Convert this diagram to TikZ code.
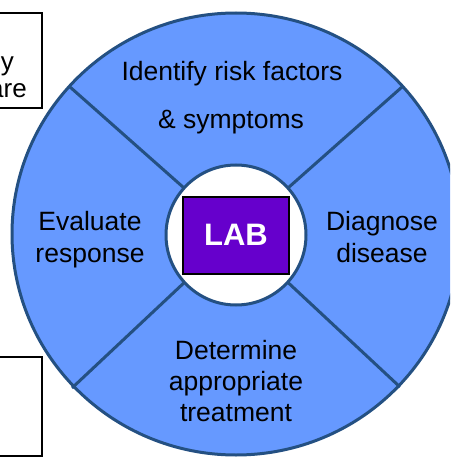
\documentclass[tikz,border=0pt]{standalone}
\usepackage{fontspec}
\setmainfont{Liberation Sans}
\usepackage{xcolor}
\usetikzlibrary{shapes,positioning,calc}

\definecolor{ringfill}{RGB}{102,153,255}
\definecolor{ringline}{RGB}{36,80,130}
\definecolor{labfill}{RGB}{102,0,204}

\tikzset{
    ring/.style={draw=ringline, line width=3pt},
    step label/.style={inner sep=0pt, anchor=base, font=\fontsize{26.5}{28}\selectfont},
    side box/.style={draw=black, line width=2pt, fill=white}
}

\begin{document}
\begin{tikzpicture}[x=1pt, y=-1pt]
        \useasboundingbox (0,0) rectangle (450,457);
        \clip (0,0) rectangle (450,457);

        % Side boxes (cut off at the left)
        \node[side box, minimum width=60pt, minimum height=95pt] (topbox) at (12,60.5) {};
        \node[inner sep=0pt, anchor=base east, font=\fontsize{26}{28}\selectfont] (topline1) at (14,71) {y};
        \node[inner sep=0pt, anchor=base east, font=\fontsize{26}{28}\selectfont] (topline2) at (27,98) {are};
        \node[side box, minimum width=60pt, minimum height=99pt] (botbox) at (12,406.5) {};

        % Outer ring
        \coordinate (c) at (236,234);
        \draw[ring, fill=ringfill] (c) ellipse [x radius=224, y radius=221];
        \foreach \px/\py in {70/87, 402/87, 72/388, 400/387}
            \draw[ring] (c) -- (\px,\py);

        % Hub
        \node[ring, circle, fill=white, minimum size=140pt, inner sep=0pt] (hub) at (236,235) {};
        \node[draw=black, line width=2pt, fill=labfill, text=white,
              minimum width=106pt, minimum height=77pt, inner sep=0pt,
              font=\fontsize{31}{33}\selectfont\bfseries] (lab) at (hub.center) {LAB};

        % Segment labels
        \node[step label] (risk1) at (232,81) {Identify risk factors};
        \node[step label] (risk2) at (231,129) {\& symptoms};
        \node[step label] (diag1) at (382,230) {Diagnose};
        \node[step label] (diag2) at (382,262) {disease};
        \node[step label] (treat1) at (236,359) {Determine};
        \node[step label] (treat2) at (236,390) {appropriate};
        \node[step label] (treat3) at (236,421) {treatment};
        \node[step label] (eval1) at (90,230) {Evaluate};
        \node[step label] (eval2) at (90,262) {response};
\end{tikzpicture}
\end{document}
